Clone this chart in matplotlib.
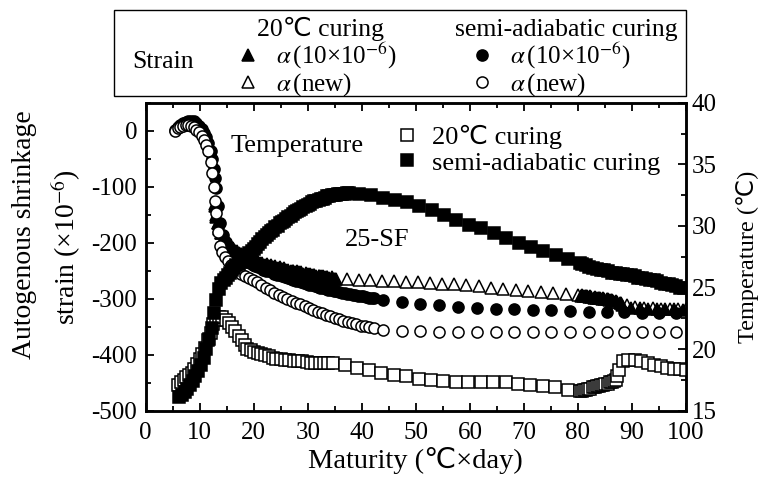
import matplotlib
matplotlib.use("Agg")
import matplotlib.pyplot as plt
from matplotlib.patches import Rectangle
from matplotlib.ticker import MultipleLocator

plt.rcParams["font.family"] = ["Liberation Serif", "DejaVu Sans"]
plt.rcParams["mathtext.fontset"] = "stix"

W, H = 761, 479

# --- strain, semi-adiabatic curing, alpha(new) (open circles) ---
mat_sa_new = [5.4, 5.9, 6.4, 6.9, 7.4, 7.9, 8.4, 8.9, 9.4, 9.9,
              10.4, 10.8, 11.2, 11.6, 12.0, 12.3, 12.6, 12.8, 13.0, 13.4,
              13.8, 14.2, 14.7, 15.2,
              15.8, 16.4, 17.0, 17.7, 18.4, 19.1,
              19.8, 20.6, 21.4, 22.2, 23.0, 23.8, 24.6, 25.4, 26.2, 27.0,
              27.8, 28.6, 29.4, 30.2, 31.0, 31.8, 32.6, 33.4, 34.2, 35.0,
              35.8, 36.6, 37.4, 38.2, 39.0, 39.8, 40.6, 41.4, 42.2,
              44.0, 47.4, 50.8, 54.3, 57.8, 61.3, 64.8, 68.2, 71.6, 75.1,
              78.6, 82.0, 85.3, 88.6, 91.8, 95.0, 98.1]
strain_sa_new = [0, 4, 7, 9, 10, 10, 9, 6, 2, -3,
                 -9, -16, -25, -37, -55, -75, -100, -125, -147, -180,
                 -205, -217, -226, -233,
                 -240, -246, -251, -255, -259, -263,
                 -267, -271, -276, -280, -285, -289, -294, -297, -300, -304,
                 -307, -310, -313, -316, -320, -323, -326, -329, -331, -334,
                 -337, -339, -342, -344, -346, -348, -349, -351, -352,
                 -355, -357, -358, -359, -360, -360, -360, -360, -360, -360,
                 -360, -360, -360, -360, -360, -359, -359]

# --- strain, semi-adiabatic curing, alpha(10e-6) (filled circles) ---
mat_sa_10 = [5.4, 5.9, 6.4, 6.9, 7.4, 7.9, 8.4, 8.9, 9.4, 9.9,
             10.4, 10.8, 11.2, 11.6, 12.0, 12.3, 12.6, 12.8, 13.0, 13.4,
             13.8, 14.3, 14.8, 15.3, 15.8, 16.3, 16.8, 17.3, 17.8, 18.3,
             18.8, 19.3, 19.8, 20.3, 20.8, 21.3, 21.8, 22.3, 22.8, 23.3,
             23.8, 24.3, 24.8, 25.3, 25.8, 26.3, 26.8, 27.3, 27.8, 28.3,
             28.8, 29.3, 29.8, 30.3, 30.8, 31.3, 31.8, 32.3, 32.8, 33.3,
             33.8, 34.3, 34.8, 35.3, 35.8, 36.3, 36.8, 37.3, 37.8, 38.3,
             38.8, 39.3, 39.8, 40.3, 40.8, 41.3, 41.8, 42.3,
             44.0, 47.4, 50.8, 54.3, 57.8, 61.3, 64.8, 68.2, 71.6, 75.1,
             78.6, 82.0, 85.3, 88.6, 91.8, 95.0, 98.1]
strain_sa_10 = [2, 6, 10, 13, 15, 17, 18, 17, 14, 9,
                3, -4, -12, -22, -36, -50, -68, -85, -102, -135,
                -165, -186, -198, -206, -212, -217, -221, -225, -229, -232,
                -235, -237, -239, -242, -244, -246, -248, -250, -251, -253,
                -255, -257, -258, -260, -262, -263, -265, -266, -268, -269,
                -271, -272, -274, -275, -276, -278, -279, -280, -281, -283,
                -284, -285, -286, -287, -288, -289, -290, -291, -292, -293,
                -294, -295, -296, -296, -297, -298, -299, -299,
                -302, -306, -309, -312, -314, -316, -318, -319, -320, -321,
                -322, -323, -323, -324, -325, -325, -326]

# --- strain, 20 C curing, alpha(new) (open triangles) ---
mat_20_new = [12.8, 13.0, 13.3, 13.6, 14.0, 14.5, 15.0, 15.6, 16.2, 16.9,
              17.6, 18.4, 19.2, 20.0, 20.8, 21.6, 22.4, 23.2, 24.0, 24.8,
              25.6, 26.4, 27.2, 28.0, 28.8, 29.6, 30.4, 31.2, 32.0, 32.8,
              33.6, 34.4,
              35.1, 37.3, 39.4, 41.6, 43.8, 46.0, 48.2, 50.4, 52.6, 54.8,
              57.0, 59.3, 61.6, 63.9, 66.2, 68.5, 70.8, 73.1, 75.4, 77.7, 80.0,
              80.5, 80.9, 81.3, 81.7, 82.1, 82.5, 82.9, 83.3, 83.7, 84.1,
              84.5, 84.9, 85.3, 85.7, 86.1, 86.5, 86.9, 87.3, 87.7,
              89.0, 90.6, 92.2, 93.8, 95.4, 97.0, 98.6, 100.0]
strain_20_new = [-130, -150, -165, -175, -183, -191, -198, -204, -210, -215,
                 -220, -224, -228, -231, -234, -236, -238, -240, -242, -244,
                 -246, -248, -250, -251, -253, -254, -256, -257, -259, -260,
                 -261, -262,
                 -264, -265, -266, -267, -268, -269, -270, -271, -272, -273,
                 -274, -276, -278, -280, -282, -284, -286, -288, -290, -292, -294,
                 -295, -295, -296, -296, -297, -297, -298, -298, -299, -299,
                 -300, -300, -301, -302, -303, -304, -305, -306, -308,
                 -312, -315, -316, -317, -318, -318, -319, -319]

# --- strain, 20 C curing, alpha(10e-6) (filled triangles) ---
mat_20_10 = [12.8, 13.0, 13.3,
             13.6, 14.0, 14.4, 14.8, 15.2, 15.6, 16.0, 16.4, 16.8, 17.2,
             17.6, 18.0, 18.4, 18.8, 19.2, 19.6, 20.0, 20.4, 20.8, 21.2,
             21.6, 22.0, 22.4, 22.8, 23.2, 23.6, 24.0, 24.4, 24.8, 25.2,
             25.6, 26.0, 26.4, 26.8, 27.2, 27.6, 28.0, 28.4, 28.8, 29.2,
             29.6, 30.0, 30.4, 30.8, 31.2, 31.6, 32.0, 32.4, 32.8, 33.2,
             33.6, 34.0, 34.4, 34.8, 35.2,
             80.7, 81.5, 82.3, 83.1, 83.9, 84.7, 85.5, 86.3, 87.1, 87.9,
             88.2, 89.8, 91.4, 93.0, 94.6, 96.2, 97.8, 99.4]
strain_20_10 = [-134, -154, -165,
                -172, -182, -190, -196, -201, -205, -209, -213, -216, -219,
                -221, -223, -225, -227, -229, -231, -233, -235, -236, -237,
                -238, -239, -240, -241, -242, -243, -244, -245, -246, -247,
                -248, -249, -250, -250, -251, -252, -253, -253, -254, -255,
                -256, -256, -257, -258, -258, -259, -260, -260, -261, -262,
                -262, -263, -263, -264, -264,
                -294, -295, -296, -297, -298, -299, -301, -302, -304, -307,
                -311, -316, -317, -318, -318, -319, -319, -320]

# --- temperature, semi-adiabatic curing (filled squares) ---
mat_t_sa = [6.2, 6.7, 7.2, 7.7, 8.2, 8.7, 9.2, 9.7, 10.2, 10.7,
            11.2, 11.7, 12.2, 12.7, 13.1, 13.6,
            14.0, 14.4, 14.8, 15.2, 15.6, 16.0, 16.4, 16.8, 17.2, 17.6,
            18.0, 18.4, 18.8, 19.2, 19.6, 20.0, 20.4, 20.8, 21.2, 21.6,
            22.0, 22.4, 22.8, 23.2, 23.6, 24.0, 24.4, 24.8, 25.2, 25.6,
            26.0, 26.4, 26.8, 27.2, 27.6, 28.0, 28.4, 28.8, 29.2, 29.6,
            30.0, 30.4, 30.8, 31.2, 31.6, 32.0, 32.4, 32.8, 33.2, 33.6,
            34.0, 34.4, 34.8, 35.2, 35.6, 36.0, 36.4, 36.8, 37.2, 37.6,
            39.5, 41.7, 43.9, 46.1, 48.3, 50.6, 52.9, 55.2, 57.5, 59.8,
            62.1, 64.4, 66.7, 69.0, 71.3, 73.6, 75.9, 78.1, 80.3,
            80.7, 81.4, 82.1, 82.8, 83.5, 84.2, 84.9, 85.6, 86.3, 87.0,
            87.7, 88.4, 89.1, 89.8, 90.5, 91.2, 91.9, 92.6, 93.3, 94.0,
            94.7, 95.4, 96.1, 96.8, 97.5, 98.2, 98.9, 99.6]
temp_sa = [16.1, 16.3, 16.5, 16.8, 17.1, 17.4, 17.8, 18.2, 18.7, 19.3,
           20.0, 20.8, 21.7, 22.9, 24.0, 24.9,
           25.4, 25.6, 25.8, 26.0, 26.2, 26.4, 26.6, 26.8, 26.9, 27.1,
           27.3, 27.5, 27.6, 27.8, 28.0, 28.1, 28.3, 28.5, 28.7, 28.9,
           29.1, 29.3, 29.4, 29.6, 29.7, 29.9, 30.0, 30.2, 30.3, 30.4,
           30.6, 30.7, 30.8, 31.0, 31.1, 31.2, 31.3, 31.4, 31.5, 31.6,
           31.7, 31.8, 31.9, 32.0, 32.0, 32.1, 32.2, 32.2, 32.3, 32.4,
           32.4, 32.5, 32.5, 32.5, 32.6, 32.6, 32.6, 32.6, 32.7, 32.7,
           32.6, 32.5, 32.3, 32.1, 31.9, 31.6, 31.3, 30.9, 30.5, 30.1,
           29.8, 29.4, 29.0, 28.6, 28.3, 28.0, 27.6, 27.3, 27.0,
           26.9, 26.8, 26.7, 26.6, 26.5, 26.4, 26.4, 26.3, 26.2, 26.2,
           26.1, 26.1, 26.0, 26.0, 25.9, 25.8, 25.8, 25.7, 25.6, 25.6,
           25.5, 25.4, 25.3, 25.3, 25.2, 25.1, 25.0, 25.0]

# --- temperature, 20 C curing (open squares) ---
mat_t_20 = [6.0, 6.5, 7.0, 7.5, 8.0, 8.5, 9.0, 9.5, 10.0, 10.5,
            11.0, 11.5, 12.0, 12.5, 13.0, 13.6, 14.2, 14.8, 15.4, 16.0,
            16.6, 17.2, 17.8, 18.3, 18.8, 19.4, 20.0, 20.7, 21.4, 22.1,
            22.8, 23.5, 24.2, 25.0, 25.8, 26.6, 27.4, 28.2, 29.0, 29.8,
            30.6, 31.4, 32.2, 33.0, 33.8, 34.6,
            36.9, 39.2, 41.4, 43.6, 45.9, 48.2, 50.5, 52.8, 55.1, 57.4,
            59.7, 62.0, 64.3, 66.6, 68.9, 71.2, 73.5, 75.8, 78.1, 80.3,
            80.7, 81.1, 81.5, 81.9, 82.3, 82.7, 83.1, 83.5, 83.9, 84.3,
            84.7, 85.1, 85.5, 85.9, 86.3, 86.7, 87.0, 87.3, 87.6,
            88.3, 89.3, 90.5, 91.7, 92.9, 94.1, 95.3, 96.5, 97.7, 98.9, 100.0]
temp_20 = [17.1, 17.3, 17.5, 17.7, 17.9, 18.1, 18.4, 18.8, 19.2, 19.6,
           20.1, 20.7, 21.3, 22.0, 22.4, 22.6, 22.6, 22.4, 22.1, 21.8,
           21.5, 21.1, 20.7, 20.3, 20.0, 19.9, 19.8, 19.7, 19.6, 19.5,
           19.4, 19.3, 19.2, 19.2, 19.1, 19.1, 19.0, 19.0, 19.0, 18.95,
           18.9, 18.9, 18.9, 18.9, 18.9, 18.9,
           18.7, 18.5, 18.3, 18.1, 17.9, 17.8, 17.6, 17.5, 17.4, 17.3,
           17.3, 17.3, 17.3, 17.3, 17.2, 17.1, 17.0, 16.9, 16.7, 16.6,
           16.6, 16.7, 16.7, 16.8, 16.8, 16.9, 16.9, 17.0, 17.0, 17.1,
           17.1, 17.2, 17.2, 17.3, 17.3, 17.4, 17.5, 17.8, 18.3,
           19.0, 19.1, 19.1, 19.0, 18.9, 18.7, 18.6, 18.5, 18.4, 18.4, 18.3]


def px(x, y):
    # pixel position (from top-left) -> figure fraction
    return x / W, 1 - y / H


fig = plt.figure(figsize=(W / 100, H / 100), dpi=100)
ax = fig.add_axes([145.7 / W, 1 - 410.7 / H, (686 - 145.7) / W, 308 / H])
ax2 = ax.twinx()

mk = dict(linestyle="none", markeredgecolor="black", markeredgewidth=1.1)
h_20_new, = ax.plot(mat_20_new, strain_20_new, marker="^", markersize=8.5, markerfacecolor="white", **mk)
h_20_10, = ax.plot(mat_20_10, strain_20_10, marker="^", markersize=8.5, markerfacecolor="black", **mk)
h_sa_10, = ax.plot(mat_sa_10, strain_sa_10, marker="o", markersize=8, markerfacecolor="black", **mk)
h_sa_new, = ax.plot(mat_sa_new, strain_sa_new, marker="o", markersize=8, markerfacecolor="white", **mk)

h_t20, = ax2.plot(mat_t_20, temp_20, marker="s", markersize=8.5, markerfacecolor="white", **mk)
h_tsa, = ax2.plot(mat_t_sa, temp_sa, marker="s", markersize=8.5, markerfacecolor="black", **mk)

ax.set_xlim(0, 100)
ax.set_ylim(-500, 50)
ax2.set_ylim(15, 40)
ax.xaxis.set_major_locator(MultipleLocator(10))
ax.xaxis.set_minor_locator(MultipleLocator(5))
ax.yaxis.set_minor_locator(MultipleLocator(50))
ax2.yaxis.set_major_locator(MultipleLocator(5))
ax2.yaxis.set_minor_locator(MultipleLocator(2.5))

ax.tick_params(which="both", direction="in", top=True, right=False, width=1.3, labelsize=18)
ax.tick_params(which="major", length=6, pad=6)
ax.tick_params(axis="x", which="major", pad=8)
ax.tick_params(which="minor", length=3.5)
ax2.tick_params(which="both", direction="in", width=1.3, labelsize=18)
ax2.tick_params(which="major", length=6, pad=4)
ax2.tick_params(which="minor", length=3.5)
ax.set_yticks([0, -100, -200, -300, -400, -500])
ax.set_yticklabels(["0", "-100", "-200", "-300", "-400", "-500"])
for a in (ax, ax2):
    for s in a.spines.values():
        s.set_linewidth(1.8)

ax.set_xlabel("Maturity (℃×day)", fontsize=20.5, labelpad=2)
ax2.set_ylabel("Temperature (℃)", fontsize=17.5, labelpad=14)
fig.text(*px(25, 235), "Autogenous shrinkage", rotation=90, fontsize=20, ha="center", va="center")
fig.text(*px(66, 247), "strain (×10$^{-6}$)", rotation=90, fontsize=20, ha="center", va="center")

ax.text(28.0, -27, "Temperature", fontsize=19, ha="center", va="center")
ax.text(42.9, -195, "25-SF", fontsize=19, ha="center", va="center")

ax2.legend([h_t20, h_tsa], ["20℃ curing", "semi-adiabatic curing"],
           loc="upper left", bbox_to_anchor=px(395, 125), bbox_transform=fig.transFigure,
           frameon=False, fontsize=19, handlelength=0.9, handletextpad=0.5,
           borderpad=0, borderaxespad=0, labelspacing=0.08)

# top box with strain legend
fig.add_artist(Rectangle(px(114, 96), (686 - 114) / W, 86 / H, transform=fig.transFigure,
                         fill=False, edgecolor="black", linewidth=1.0))
fig.text(*px(132, 68), "Strain", fontsize=18.5, ha="left", va="baseline")
fig.text(*px(257, 36), "20℃ curing", fontsize=18.5, ha="left", va="baseline")
fig.text(*px(455, 36), "semi-adiabatic curing", fontsize=18.5, ha="left", va="baseline")
lab_10 = r"$\alpha\,$(10×10$^{-6}$)"
lab_new = r"$\alpha\,$(new)"
fig.legend([h_20_10, h_20_new], [lab_10, lab_new], loc="upper left",
           bbox_to_anchor=px(237, 41), frameon=False, fontsize=18, handlelength=0.9,
           handletextpad=0.65, borderpad=0, borderaxespad=0, labelspacing=0.0)
fig.legend([h_sa_10, h_sa_new], [lab_10, lab_new], loc="upper left",
           bbox_to_anchor=px(471, 41), frameon=False, fontsize=18, handlelength=0.9,
           handletextpad=0.65, borderpad=0, borderaxespad=0, labelspacing=0.0)

fig.savefig("out.png", dpi=100)
